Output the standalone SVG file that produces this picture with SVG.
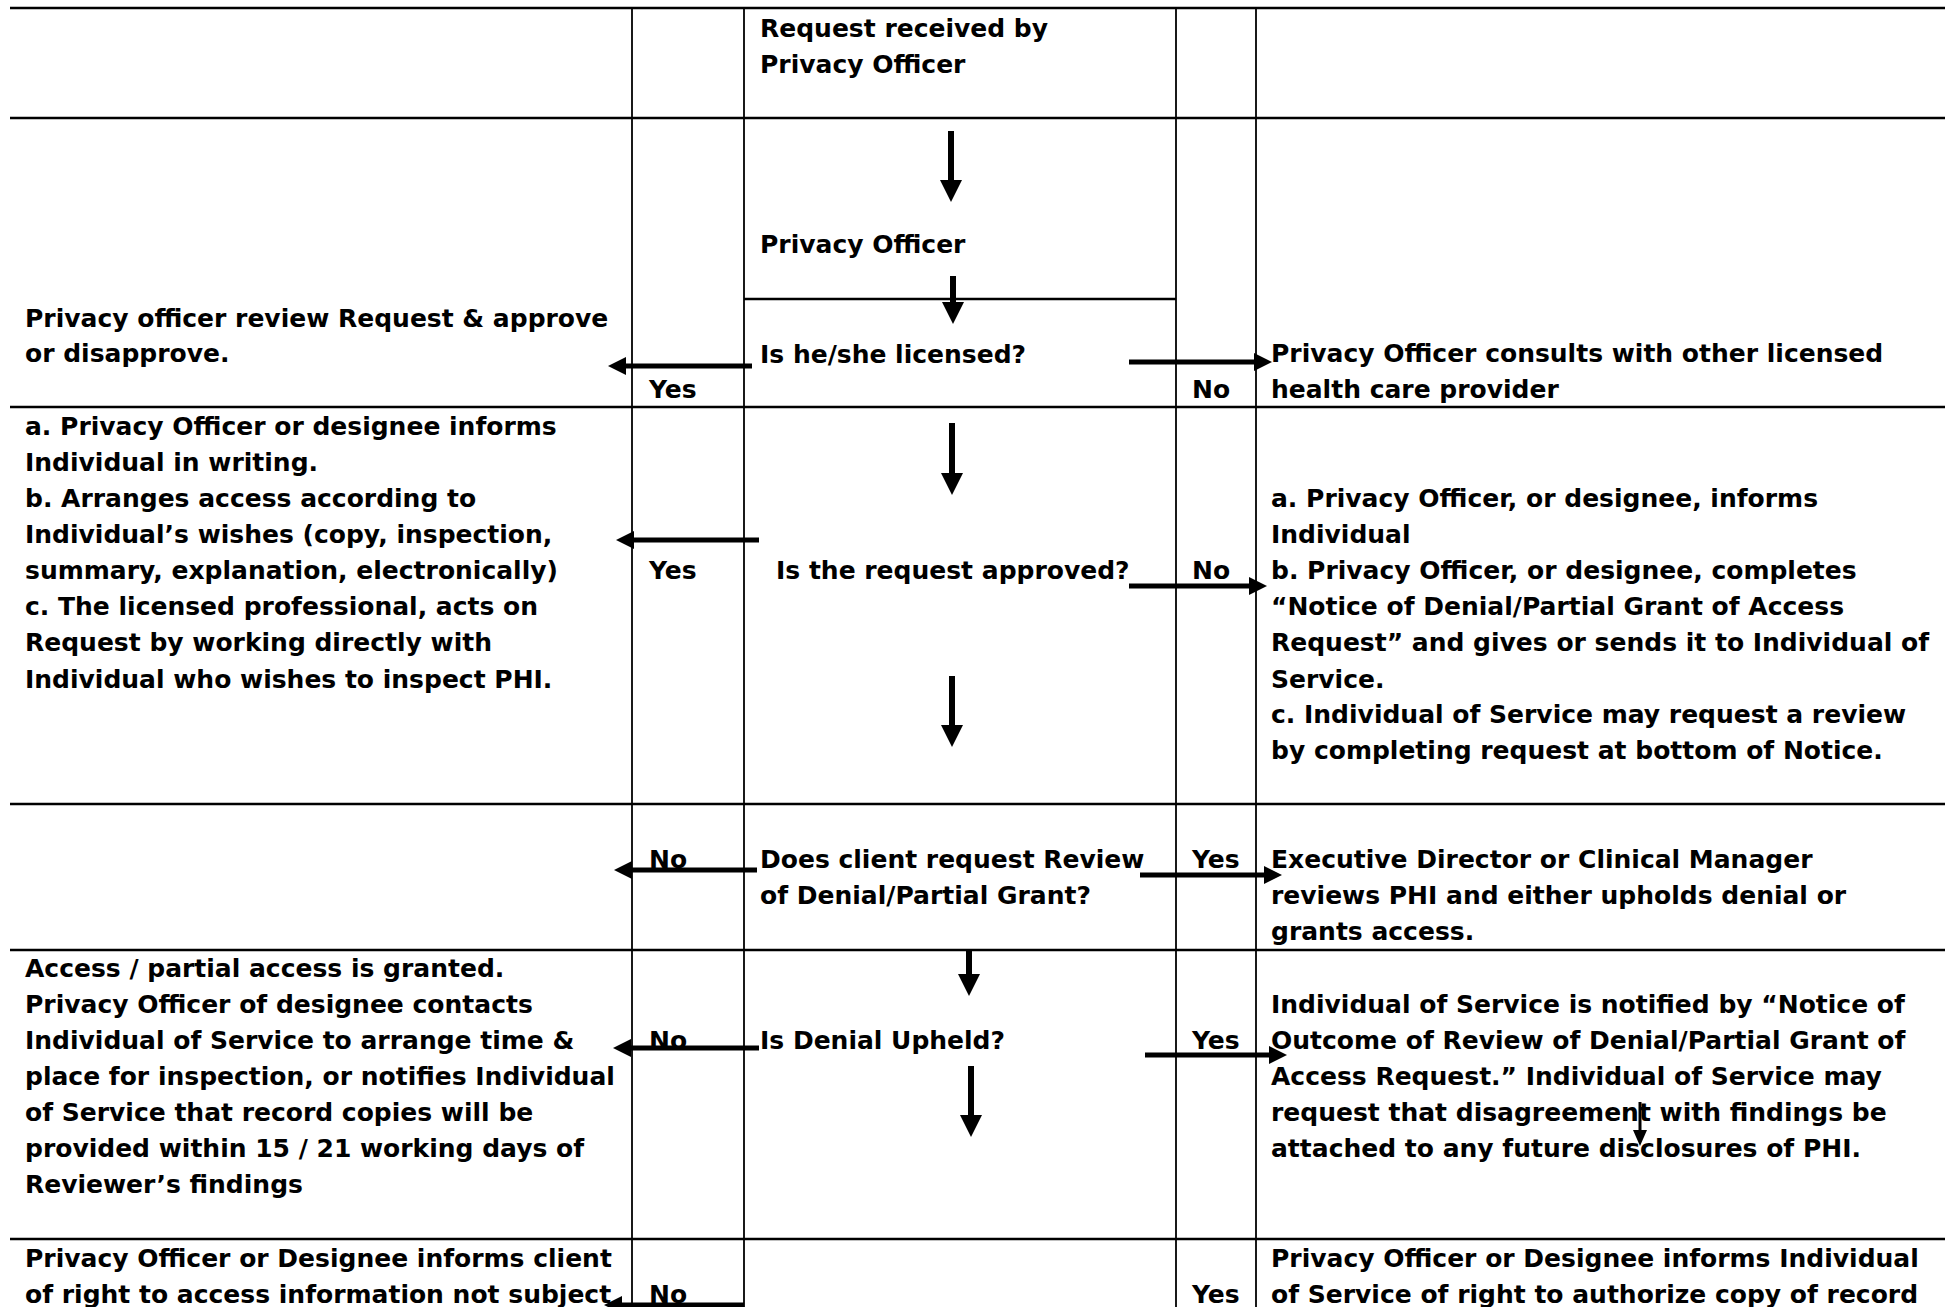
<svg xmlns="http://www.w3.org/2000/svg" width="1952" height="1307" viewBox="0 0 1952 1307">
<style>
text { font-family: "DejaVu Sans", "Liberation Sans", sans-serif; font-weight: bold; font-size: 25px; fill: #000; }
.hl { stroke: #000; stroke-width: 2.5; }
.vl { stroke: #000; stroke-width: 1.8; }
.arr { stroke: #000; stroke-width: 5; fill: none; marker-end: url(#ah); }
.darr { stroke: #000; stroke-width: 6; fill: none; marker-end: url(#dh); }
.sarr { stroke: #000; stroke-width: 3; fill: none; marker-end: url(#sh); }
</style>
<defs>
<marker id="ah" markerUnits="userSpaceOnUse" viewBox="0 0 18 18" markerWidth="18" markerHeight="18" refX="8" refY="9" orient="auto"><path d="M0,0 L18,9 L0,18 z" fill="#000"/></marker>
<marker id="dh" markerUnits="userSpaceOnUse" viewBox="0 0 22 22" markerWidth="22" markerHeight="22" refX="10" refY="11" orient="auto"><path d="M0,0 L22,11 L0,22 z" fill="#000"/></marker>
<marker id="sh" markerUnits="userSpaceOnUse" viewBox="0 0 16 14" markerWidth="16" markerHeight="14" refX="6" refY="7" orient="auto"><path d="M0,0 L16,7 L0,14 z" fill="#000"/></marker>
</defs>
<rect width="1952" height="1307" fill="#fff"/>
<g id="grid">
<line class="hl" x1="10" y1="8" x2="1945" y2="8"/>
<line class="hl" x1="10" y1="118" x2="1945" y2="118"/>
<line class="hl" x1="10" y1="407" x2="1945" y2="407"/>
<line class="hl" x1="10" y1="804" x2="1945" y2="804"/>
<line class="hl" x1="10" y1="950" x2="1945" y2="950"/>
<line class="hl" x1="10" y1="1239" x2="1945" y2="1239"/>
<line class="hl" x1="744" y1="299" x2="1176" y2="299"/>
<line class="vl" x1="632" y1="8" x2="632" y2="1307"/>
<line class="vl" x1="744" y1="8" x2="744" y2="1307"/>
<line class="vl" x1="1176" y1="8" x2="1176" y2="1307"/>
<line class="vl" x1="1256" y1="8" x2="1256" y2="1307"/>
</g>
<g id="n-request">
<text x="760" y="37">Request received by</text>
<text x="760" y="73">Privacy Officer</text>
</g>
<g id="n-privacy-officer"><text x="760" y="253">Privacy Officer</text></g>
<g id="n-licensed"><text x="760" y="363">Is he/she licensed?</text></g>
<g id="n-review">
<text x="25" y="327">Privacy officer review Request &amp; approve</text>
<text x="25" y="362">or disapprove.</text>
</g>
<g id="n-consult">
<text x="1271" y="362">Privacy Officer consults with other licensed</text>
<text x="1271" y="398">health care provider</text>
</g>
<g id="n-inform">
<text x="25" y="435">a. Privacy Officer or designee informs</text>
<text x="25" y="471">Individual in writing.</text>
<text x="25" y="507">b. Arranges access according to</text>
<text x="25" y="543">Individual’s wishes (copy, inspection,</text>
<text x="25" y="579">summary, explanation, electronically)</text>
<text x="25" y="615">c. The licensed professional, acts on</text>
<text x="25" y="651">Request by working directly with</text>
<text x="25" y="688">Individual who wishes to inspect PHI.</text>
</g>
<g id="n-approved"><text x="776" y="579">Is the request approved?</text></g>
<g id="n-denial-notice">
<text x="1271" y="507">a. Privacy Officer, or designee, informs</text>
<text x="1271" y="543">Individual</text>
<text x="1271" y="579">b. Privacy Officer, or designee, completes</text>
<text x="1271" y="615">“Notice of Denial/Partial Grant of Access</text>
<text x="1271" y="651">Request” and gives or sends it to Individual of</text>
<text x="1271" y="688">Service.</text>
<text x="1271" y="723">c. Individual of Service may request a review</text>
<text x="1271" y="759">by completing request at bottom of Notice.</text>
</g>
<g id="n-client-review">
<text x="760" y="868">Does client request Review</text>
<text x="760" y="904">of Denial/Partial Grant?</text>
</g>
<g id="n-exec">
<text x="1271" y="868">Executive Director or Clinical Manager</text>
<text x="1271" y="904">reviews PHI and either upholds denial or</text>
<text x="1271" y="940">grants access.</text>
</g>
<g id="n-granted">
<text x="25" y="977">Access / partial access is granted.</text>
<text x="25" y="1013">Privacy Officer of designee contacts</text>
<text x="25" y="1049">Individual of Service to arrange time &amp;</text>
<text x="25" y="1085">place for inspection, or notifies Individual</text>
<text x="25" y="1121">of Service that record copies will be</text>
<text x="25" y="1157">provided within 15 / 21 working days of</text>
<text x="25" y="1193">Reviewer’s findings</text>
</g>
<g id="n-upheld"><text x="760" y="1049">Is Denial Upheld?</text></g>
<g id="n-outcome">
<text x="1271" y="1013">Individual of Service is notified by “Notice of</text>
<text x="1271" y="1049">Outcome of Review of Denial/Partial Grant of</text>
<text x="1271" y="1085">Access Request.” Individual of Service may</text>
<text x="1271" y="1121">request that disagreement with findings be</text>
<text x="1271" y="1157">attached to any future disclosures of  PHI.</text>
</g>
<g id="n-right-client">
<text x="25" y="1267">Privacy Officer or Designee informs client</text>
<text x="25" y="1303">of right to access information not subject</text>
</g>
<g id="n-right-individual">
<text x="1271" y="1267">Privacy Officer or Designee informs Individual</text>
<text x="1271" y="1303">of Service of right to authorize copy of record</text>
</g>
<g id="labels">
<text x="649" y="398">Yes</text>
<text x="1192" y="398">No</text>
<text x="649" y="579">Yes</text>
<text x="1192" y="579">No</text>
<text x="649" y="868">No</text>
<text x="1192" y="868">Yes</text>
<text x="649" y="1049">No</text>
<text x="1192" y="1049">Yes</text>
<text x="649" y="1303">No</text>
<text x="1192" y="1303">Yes</text>
</g>
<g id="connectors">
<line class="darr" x1="951" y1="131" x2="951" y2="190"/>
<line class="darr" x1="953" y1="276" x2="953" y2="312"/>
<line class="darr" x1="952" y1="423" x2="952" y2="483"/>
<line class="darr" x1="952" y1="676" x2="952" y2="735"/>
<line class="darr" x1="969" y1="950" x2="969" y2="984"/>
<line class="darr" x1="971" y1="1066" x2="971" y2="1125"/>
<line class="sarr" x1="1640" y1="1102" x2="1640" y2="1136"/>
<line class="arr" x1="752" y1="366" x2="618" y2="366"/>
<line class="arr" x1="1129" y1="362" x2="1262" y2="362"/>
<line class="arr" x1="759" y1="540" x2="626" y2="540"/>
<line class="arr" x1="1129" y1="586" x2="1257" y2="586"/>
<line class="arr" x1="757" y1="870" x2="624" y2="870"/>
<line class="arr" x1="1140" y1="875" x2="1272" y2="875"/>
<line class="arr" x1="759" y1="1048" x2="623" y2="1048"/>
<line class="arr" x1="1145" y1="1055" x2="1277" y2="1055"/>
<line class="arr" x1="744" y1="1305" x2="614" y2="1305"/>
</g>
</svg>
